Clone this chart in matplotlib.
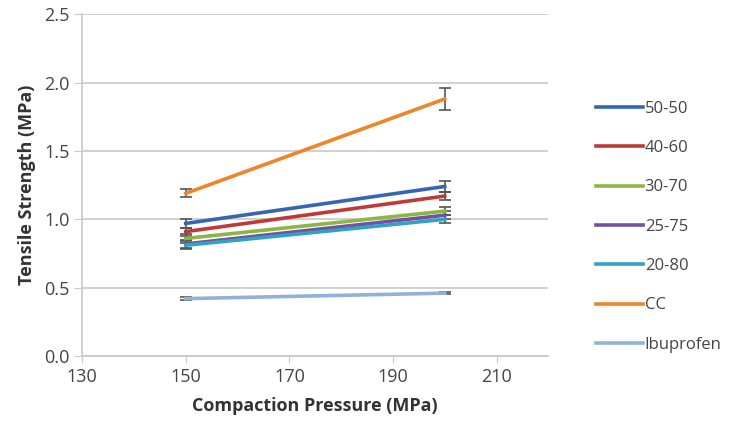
import matplotlib.pyplot as plt

plt.rcParams['font.family'] = ['Open Sans', 'DejaVu Sans']

pressure = [150, 200]
labels = ['50-50', '40-60', '30-70', '25-75', '20-80', 'CC', 'Ibuprofen']
colors = ['#3567B0', '#BE3A36', '#8DB544', '#7451A0', '#2EA3C2', '#EE8528', '#92B0DC']
ts = [
    [0.97, 1.24],
    [0.91, 1.17],
    [0.86, 1.06],
    [0.82, 1.03],
    [0.81, 1.00],
    [1.19, 1.88],
    [0.42, 0.46],
]
err = [
    [0.03, 0.04],
    [0.03, 0.03],
    [0.03, 0.03],
    [0.03, 0.03],
    [0.03, 0.03],
    [0.03, 0.08],
    [0.01, 0.005],
]

fig = plt.figure(figsize=(7.34, 4.29), dpi=100)
ax = fig.add_axes([0.112, 0.170, 0.635, 0.797])

for lab, c, y, e in zip(labels, colors, ts, err):
    ax.errorbar(pressure, y, yerr=e, color=c, lw=2.6, label=lab,
                ecolor='#555555', elinewidth=1.2, capsize=4, capthick=1.2)

ax.set_xlim(130, 220)
ax.set_ylim(0, 2.5)
ax.set_xticks([130, 150, 170, 190, 210])
ax.set_yticks([0, 0.5, 1.0, 1.5, 2.0, 2.5])
ax.set_yticklabels(['0.0', '0.5', '1.0', '1.5', '2.0', '2.5'])
ax.yaxis.grid(True, color='#c8c8c8', lw=1.2)
ax.set_axisbelow(True)
for s in ['top', 'right']:
    ax.spines[s].set_visible(False)
ax.spines['left'].set_color('#c8c8c8')
ax.spines['bottom'].set_color('#c8c8c8')
ax.spines['left'].set_linewidth(1.2)
ax.spines['bottom'].set_linewidth(1.2)
ax.tick_params(axis='both', colors='#c8c8c8', labelcolor='#444444', labelsize=13, length=5)
ax.tick_params(axis='y', length=6, pad=3)

ax.set_xlabel('Compaction Pressure (MPa)', fontsize=13, fontweight='bold', color='#333333', labelpad=8)
ax.set_ylabel('Tensile Strength (MPa)', fontsize=13, fontweight='bold', color='#333333', labelpad=6)

handles, labs = ax.get_legend_handles_labels()
handles = [h[0] for h in handles]
fig.legend(handles, labs, loc='upper left', bbox_to_anchor=(0.792, 0.800), frameon=False,
           fontsize=12, handlelength=2.8, handletextpad=0.1, labelspacing=1.4, labelcolor='#444444')

plt.savefig('out.png')
